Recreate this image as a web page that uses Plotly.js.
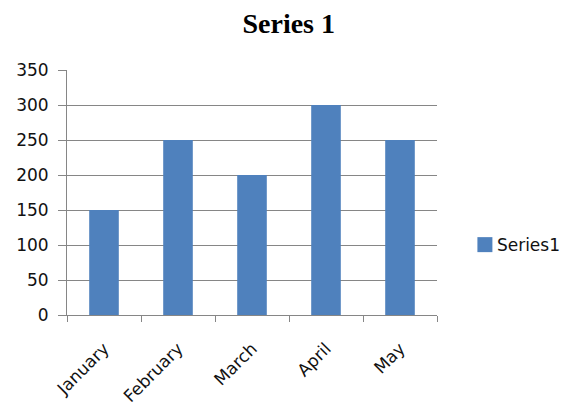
<!DOCTYPE html>
<html>
<head>
<meta charset="utf-8">
<script src="https://cdn.plot.ly/plotly-3.0.1.min.js"></script>
<style>
html,body{margin:0;padding:0;background:#fff;}
#chart{width:574px;height:414px;}
#chart .legend .legendpoints path{transform:translate(28px,0px) scale(1.25);}
</style>
</head>
<body>
<div id="chart"></div>
<script>
const categories = ["January", "February", "March", "April", "May"];
const values = [150, 250, 200, 300, 250];
const seriesName = "Series1";
const yTicks = [0, 50, 100, 150, 200, 250, 300, 350];

const trace = {
  type: "bar",
  x: categories,
  y: values,
  name: seriesName,
  marker: {color: "#4F81BD", line: {width: 0}},
  showlegend: true
};

const yFont = {family: "DejaVu Sans", size: 17, color: "#111"};
const xFont = {family: "DejaVu Sans", size: 17, color: "#111"};

const layout = {
  width: 574, height: 414,
  margin: {l: 67, r: 137, t: 70, b: 99},
  paper_bgcolor: "#fff", plot_bgcolor: "#fff",
  bargap: 0.6,
  title: {text: "<b>Series 1</b>", font: {family: "Liberation Serif", size: 28, color: "#000"},
          x: 0.503, xanchor: "center", y: 0.945, yanchor: "middle", xref: "container", yref: "container"},
  xaxis: {
    type: "category",
    tickangle: -45,
    ticks: "outside", ticklen: 6, tickcolor: "#868686", tickwidth: 1,
    tickson: "boundaries",
    showline: true, linecolor: "#868686", linewidth: 1,
    showgrid: false, zeroline: false,
    automargin: false,
    ticklabelstandoff: 16,
    tickfont: xFont
  },
  yaxis: {
    range: [0, 350],
    tickvals: yTicks,
    ticks: "outside", ticklen: 8, tickcolor: "#868686", tickwidth: 1,
    showline: true, linecolor: "#868686", linewidth: 1,
    showgrid: true, gridcolor: "#868686", gridwidth: 1,
    zeroline: false,
    automargin: false,
    ticklabelstandoff: 6,
    tickfont: yFont
  },
  showlegend: true,
  legend: {xref: "container", yref: "container", x: 0.796, y: 0.408, xanchor: "left", yanchor: "middle",
           font: {family: "DejaVu Sans", size: 17, color: "#111"},
           bgcolor: "rgba(0,0,0,0)", itemwidth: 30}
};

Plotly.newPlot("chart", [trace], layout, {displayModeBar: false, staticPlot: true});
</script>
</body>
</html>
